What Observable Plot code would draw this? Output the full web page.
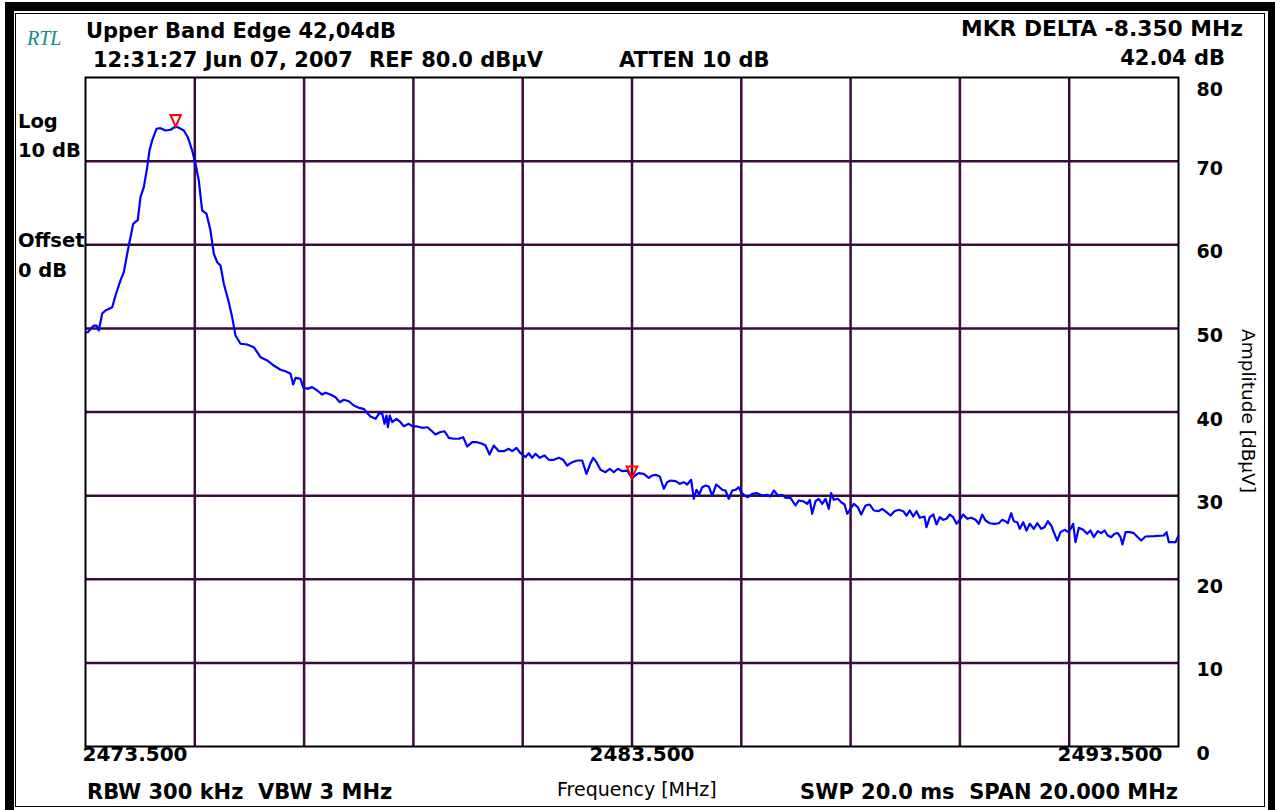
<!DOCTYPE html>
<html>
<head>
<meta charset="utf-8">
<script src="https://cdn.jsdelivr.net/npm/d3@7"></script>
<script src="https://cdn.jsdelivr.net/npm/@observablehq/plot@0.6"></script>
<style>
  body { margin: 0; background: #fff; }
  #page { position: relative; width: 1275px; height: 810px; overflow: hidden; background: #fff; font-family: "DejaVu Sans", sans-serif; color: #000; }
  .bar { position: absolute; background: #000; }
  .t { position: absolute; white-space: pre; font-weight: bold; font-size: 21px; line-height: 24px; }
  .s { position: absolute; white-space: pre; font-weight: bold; font-size: 19.5px; line-height: 24px; }
  .r { position: absolute; white-space: pre; font-weight: normal; font-size: 19px; line-height: 24px; }
  #chart { position: absolute; left: 0; top: 0; }
</style>
</head>
<body>
<div id="page">
  <div class="bar" style="left:5px;top:2px;width:9px;height:808px;"></div>
  <div class="bar" style="left:5px;top:2px;width:1270px;height:9px;"></div>
  <div class="bar" style="left:1268px;top:2px;width:7px;height:808px;"></div>
  <div style="position:absolute;left:15px;top:13px;width:1248px;height:792px;border:1.5px solid #000;"></div>
  <div id="chart"></div>

  <div style="position:absolute;left:27px;top:26px;line-height:24px;font-family:'Liberation Serif',serif;font-style:italic;font-size:20px;color:#138a8a;">RTL</div>
  <div class="t" style="left:86px;top:19px;">Upper Band Edge 42,04dB</div>
  <div class="t" style="left:93px;top:48px;">12:31:27 Jun 07, 2007</div>
  <div class="t" style="left:369px;top:48px;">REF 80.0 dBµV</div>
  <div class="t" style="left:619px;top:48px;">ATTEN 10 dB</div>
  <div class="t" style="right:32px;top:17px;font-size:21.8px;">MKR DELTA -8.350 MHz</div>
  <div class="t" style="right:50px;top:46px;">42.04 dB</div>

  <div class="s" style="left:18px;top:110px;">Log</div>
  <div class="s" style="left:18px;top:139px;">10 dB</div>
  <div class="s" style="left:18px;top:229px;">Offset</div>
  <div class="s" style="left:18px;top:259px;">0 dB</div>

  <div class="t" style="left:87px;top:780px;">RBW 300 kHz  VBW 3 MHz</div>
  <div class="r" style="left:557px;top:777px;">Frequency [MHz]</div>
  <div class="t" style="right:97px;top:780px;">SWP 20.0 ms  SPAN 20.000 MHz</div>
  <div class="r" style="left:1248px;top:411px;font-size:18.5px;transform:translate(-50%,-50%) rotate(90deg);">Amplitude [dBµV]</div>
</div>
<script>
// Frequency axis (MHz) and amplitude axis (dBµV)
const xDomain = [2473.5, 2493.5];
const yDomain = [0, 80];
const xGrid = [2473.5, 2475.5, 2477.5, 2479.5, 2481.5, 2483.5, 2485.5, 2487.5, 2489.5, 2491.5, 2493.5];
const yTicks = [0, 10, 20, 30, 40, 50, 60, 70, 80];
const xLabelValues = [2473.5, 2483.5, 2493.5];
const xLabelTexts = ["2473.500", "2483.500", "2493.500"];

// Marker positions: peak marker and delta marker
const markerFreq = [2475.15, 2483.5];
const markerLevel = [74.14, 32.10];

// Trace: [frequency MHz, level dBµV]
const trace = [
[2473.518,49.51],[2473.542,49.54],[2473.652,50.34],[2473.701,50.34],[2473.743,49.75],[2473.806,51.78],[2473.866,52.14],[2473.989,52.53],[2474.049,53.93],[2474.140,55.73],
[2474.201,56.72],[2474.263,58.92],[2474.311,60.51],[2474.373,62.50],[2474.457,62.98],[2474.506,65.69],[2474.567,66.88],[2474.629,69.27],[2474.671,71.27],[2474.720,72.47],
[2474.799,73.87],[2474.872,73.94],[2474.964,73.66],[2475.055,73.75],[2475.150,74.14],[2475.220,73.95],[2475.299,73.66],[2475.372,72.86],[2475.452,71.27],[2475.513,69.68],
[2475.573,67.68],[2475.635,64.10],[2475.714,63.70],[2475.787,61.70],[2475.848,58.92],[2475.910,57.91],[2475.970,57.52],[2476.031,55.33],[2476.122,53.13],[2476.184,51.34],
[2476.245,49.15],[2476.336,48.16],[2476.459,48.07],[2476.580,47.75],[2476.702,46.55],[2476.825,46.16],[2476.946,45.56],[2477.068,45.05],
[2477.160,44.88],[2477.251,44.57],[2477.301,43.29],[2477.343,44.09],[2477.434,43.97],[2477.484,42.97],[2477.557,42.77],[2477.648,42.97],[2477.740,42.57],[2477.831,42.09],
[2477.892,42.30],[2477.983,42.09],[2478.075,41.77],[2478.153,41.17],[2478.227,41.46],[2478.318,41.29],[2478.409,40.78],[2478.501,40.50],[2478.592,40.38],[2478.666,39.78],
[2478.715,39.46],[2478.807,39.19],[2478.867,39.78],[2478.929,39.86],[2478.971,38.59],[2479.008,39.58],[2479.032,38.18],[2479.068,39.58],[2479.112,38.78],[2479.191,39.19],
[2479.264,38.78],[2479.324,38.30],[2479.416,38.59],[2479.478,38.30],[2479.570,38.27],[2479.661,38.11],[2479.753,38.18],[2479.826,37.79],[2479.904,37.31],[2479.983,37.58],
[2480.069,37.70],[2480.148,36.91],[2480.239,36.80],[2480.331,36.80],[2480.411,36.99],[2480.485,35.87],[2480.576,36.39],[2480.667,36.39],[2480.759,36.20],[2480.819,35.99],
[2480.893,34.92],[2480.971,35.99],[2481.063,35.31],[2481.154,35.31],[2481.246,35.60],[2481.308,35.31],[2481.387,35.72],[2481.460,35.07],[2481.551,34.60],[2481.612,35.07],
[2481.674,34.52],[2481.734,35.00],[2481.813,34.52],[2481.899,34.80],[2481.978,34.28],[2482.069,34.28],[2482.161,34.52],[2482.241,34.28],[2482.314,33.60],[2482.406,34.00],
[2482.497,34.20],[2482.589,34.20],[2482.667,32.61],[2482.741,33.88],[2482.790,34.52],[2482.850,34.00],[2482.924,33.09],[2483.015,32.80],[2483.094,33.21],[2483.167,32.80],
[2483.240,33.21],[2483.321,32.92],[2483.412,33.00],[2483.500,32.10],[2483.595,32.61],
[2483.624,32.68],[2483.716,32.61],[2483.807,32.13],[2483.870,32.41],[2483.930,32.49],[2484.009,32.29],[2484.082,30.82],[2484.144,31.61],[2484.205,31.81],[2484.296,31.73],
[2484.375,31.41],[2484.448,31.61],[2484.510,31.33],[2484.583,31.89],[2484.631,29.62],[2484.680,30.70],[2484.730,30.13],[2484.785,31.01],[2484.845,31.21],[2484.905,31.09],
[2484.968,30.01],[2485.041,31.33],[2485.101,31.01],[2485.151,30.70],[2485.211,30.61],[2485.271,29.62],[2485.334,30.61],[2485.394,30.70],[2485.454,31.01],[2485.498,30.41],
[2485.559,30.01],[2485.619,29.81],[2485.700,30.22],[2485.791,30.29],[2485.883,30.01],[2485.974,30.10],[2486.034,29.90],[2486.095,30.61],[2486.168,30.01],[2486.248,30.10],
[2486.309,29.74],[2486.400,29.74],[2486.492,28.82],[2486.552,29.42],[2486.633,29.33],[2486.706,29.02],[2486.753,29.50],[2486.797,27.83],[2486.858,29.33],[2486.918,29.62],
[2486.980,29.02],[2487.041,29.62],[2487.101,28.42],[2487.145,30.29],[2487.193,29.50],[2487.266,29.62],[2487.328,29.21],[2487.388,28.94],[2487.438,27.83],[2487.498,28.42],
[2487.559,29.02],[2487.632,28.62],[2487.694,27.74],[2487.773,28.82],[2487.851,28.94],[2487.925,28.22],[2488.016,28.14],[2488.078,28.42],[2488.157,28.02],[2488.230,27.62],
[2488.303,28.14],[2488.382,28.31],[2488.463,28.14],[2488.523,27.62],[2488.583,28.22],[2488.646,27.50],[2488.706,28.14],[2488.766,27.35],
[2488.852,27.50],[2488.889,26.22],[2488.949,27.42],[2489.012,27.74],[2489.072,26.55],[2489.132,27.42],[2489.195,27.11],[2489.255,27.23],[2489.315,27.74],[2489.377,27.42],
[2489.438,26.63],[2489.498,27.11],[2489.560,27.74],[2489.634,27.23],[2489.707,27.35],[2489.786,27.11],[2489.846,26.63],[2489.908,27.74],[2489.969,27.03],[2490.047,26.70],
[2490.133,26.63],[2490.212,26.70],[2490.274,27.11],[2490.334,26.94],[2490.377,26.70],[2490.439,27.90],[2490.486,26.94],[2490.549,26.82],[2490.596,26.03],[2490.658,26.82],
[2490.719,25.83],[2490.779,26.63],[2490.852,26.03],[2490.915,26.70],[2490.988,26.03],[2491.048,26.22],[2491.109,26.94],[2491.171,26.43],[2491.218,25.63],[2491.281,24.63],
[2491.341,25.63],[2491.414,25.91],[2491.493,25.63],[2491.573,26.63],[2491.615,24.43],[2491.676,26.15],[2491.756,25.91],[2491.829,25.44],[2491.890,25.83],[2491.950,25.03],
[2492.023,25.75],[2492.086,25.51],[2492.146,25.83],[2492.206,25.23],[2492.269,25.03],[2492.329,25.44],[2492.389,25.51],[2492.439,25.03],[2492.475,24.16],[2492.530,25.63],
[2492.609,25.63],[2492.682,25.51],[2492.755,25.03],[2492.818,24.63],[2492.896,25.11],[2493.048,25.15],[2493.231,25.23],[2493.281,25.63],[2493.323,24.43],[2493.445,24.43],
[2493.487,25.03],[2493.500,25.20]
];

const markers = markerFreq.map((f, i) => ({f, v: markerLevel[i]}));
const xLabels = xLabelValues.map((v, i) => ({v, t: xLabelTexts[i]}));

// Downward-pointing marker triangle with its apex on the trace point
const invTriangle = {
  draw(context) {
    context.moveTo(0, 0);
    context.lineTo(-5.2, -11.5);
    context.lineTo(5.2, -11.5);
    context.closePath();
  }
};

const gridColor = "#3b0b3b";
const font = "DejaVu Sans";

const tickText = (data, opts) => Plot.text(data, {
  fontFamily: font, fontSize: 19, fontWeight: "bold", fill: "#000", ...opts
});

const chart = Plot.plot({
  width: 1275,
  height: 810,
  marginLeft: 85,
  marginRight: 97,
  marginTop: 77,
  marginBottom: 64,
  x: {domain: xDomain, axis: null},
  y: {domain: yDomain, axis: null},
  style: {background: "transparent", overflow: "visible"},
  marks: [
    Plot.ruleX(xGrid.slice(1, -1), {stroke: gridColor, strokeWidth: 2.5}),
    Plot.ruleY(yTicks.slice(1, -1), {stroke: gridColor, strokeWidth: 2.5}),
    Plot.frame({stroke: "#000", strokeWidth: 2}),
    Plot.line(trace, {x: d => d[0], y: d => d[1], stroke: "#0000ff", strokeWidth: 2.2}),
    Plot.dot(markers, {x: "f", y: "v", symbol: invTriangle, r: 5, stroke: "#ff0000", strokeWidth: 2, fill: "none"}),
    tickText(yTicks.filter(d => d < 80), {y: d => d, text: d => String(d), frameAnchor: "right", textAnchor: "start", dx: 18, dy: 7.5}),
    tickText(yTicks.filter(d => d === 80), {y: d => d, text: d => String(d), frameAnchor: "right", textAnchor: "start", dx: 18, dy: 12.5}),
    tickText(xLabels.slice(0, 1), {x: "v", text: "t", frameAnchor: "bottom", textAnchor: "start", dx: -3, dy: 14, fontSize: 20}),
    tickText(xLabels.slice(1, 2), {x: "v", text: "t", frameAnchor: "bottom", textAnchor: "middle", dx: 10, dy: 14, fontSize: 20}),
    tickText(xLabels.slice(2, 3), {x: "v", text: "t", frameAnchor: "bottom", textAnchor: "end", dx: -16, dy: 14, fontSize: 20})
  ]
});
document.getElementById("chart").appendChild(chart);
</script>
</body>
</html>
